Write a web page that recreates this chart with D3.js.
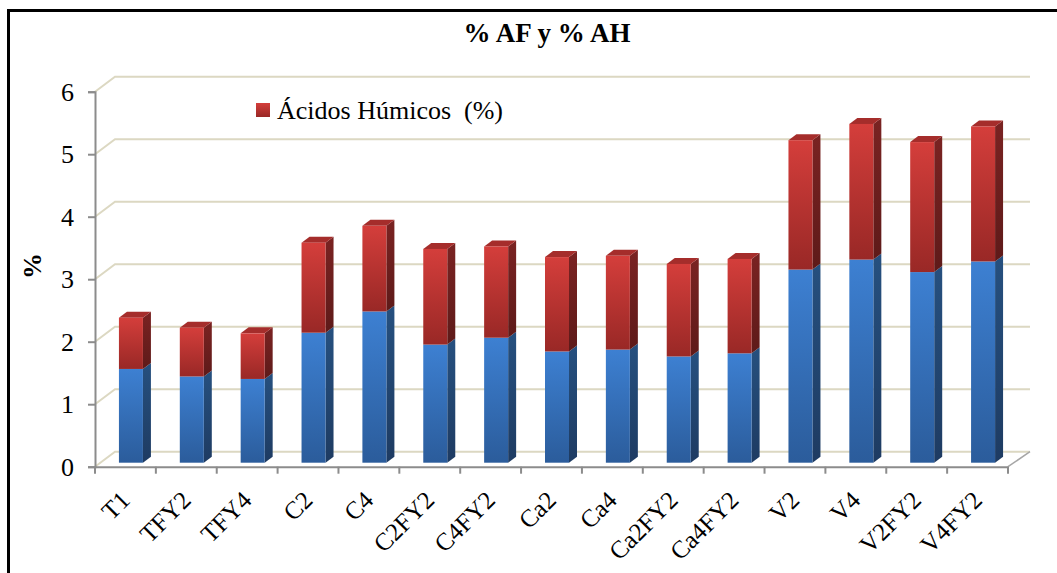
<!DOCTYPE html>
<html>
<head>
<meta charset="utf-8">
<script src="https://cdn.jsdelivr.net/npm/d3@7"></script>
<style>
body { margin: 0; background: #fff; }
text { font-family: "Liberation Serif", "Times New Roman", "DejaVu Serif", serif; fill: #000; }
</style>
</head>
<body>
<script>
const categories = ["T1", "TFY2", "TFY4", "C2", "C4", "C2FY2", "C4FY2", "Ca2", "Ca4",
    "Ca2FY2", "Ca4FY2", "V2", "V4", "V2FY2", "V4FY2"];
const fulvicos = [1.50, 1.38, 1.34, 2.08, 2.42, 1.89, 2.00, 1.78, 1.81, 1.70, 1.75, 3.09, 3.25, 3.05, 3.22];
const humicos = [0.82, 0.78, 0.73, 1.44, 1.37, 1.53, 1.46, 1.51, 1.50, 1.48, 1.51, 2.07, 2.17, 2.08, 2.16];
const yTicks = [0, 1, 2, 3, 4, 5, 6];

const W = 1057, H = 573;
const serif = '"Liberation Serif", "Times New Roman", serif';
const depth = {dx: 20, dy: -15};
const barDepth = {dx: 8, dy: -6};

const svg = d3.select('body').append('svg')
    .attr('width', W)
    .attr('height', H);

const defs = svg.append('defs');
function grad(id, c1, c2) {
    const g = defs.append('linearGradient').attr('id', id)
        .attr('x1', 0).attr('y1', 0).attr('x2', 0).attr('y2', 1);
    g.append('stop').attr('offset', '0%').attr('stop-color', c1);
    g.append('stop').attr('offset', '100%').attr('stop-color', c2);
}
grad('blueFront', '#3d80d2', '#2b5c9b');
grad('blueSide', '#26507f', '#1e3b62');
grad('redFront', '#d43e3b', '#992826');
grad('redSide', '#7a2322', '#5e1a19');

// outer frame
svg.append('rect')
    .attr('x', 8.5).attr('y', 10.5)
    .attr('width', 1100).attr('height', 700)
    .attr('fill', 'none').attr('stroke', '#000').attr('stroke-width', 3);

const x = d3.scaleBand()
    .domain(categories)
    .range([95, 1008]);

const y = d3.scaleLinear()
    .domain([0, 6])
    .range([466.7, 91.7]);

const x0 = 95, x1 = 1008;

// back wall + side wall gridlines
const grid = svg.append('g');
yTicks.forEach(t => {
    grid.append('polyline')
        .attr('points', `${x0},${y(t)} ${x0 + depth.dx},${y(t) + depth.dy} ${x1 + depth.dx + 2},${y(t) + depth.dy}`)
        .attr('fill', 'none')
        .attr('stroke', '#dcd8c2')
        .attr('stroke-width', 2);
});

// floor edge
svg.append('line')
    .attr('x1', x1).attr('y1', y(0))
    .attr('x2', x1 + depth.dx + 2).attr('y2', y(0) + depth.dy)
    .attr('stroke', '#a6a6a6').attr('stroke-width', 1.5);

// y axis
const yAxis = d3.axisLeft(y).tickValues(yTicks).tickFormat(d3.format('d')).tickSize(7).tickPadding(14);
const yAxisGroup = svg.append('g')
    .attr('transform', `translate(${x0}, 0)`)
    .call(yAxis);
yAxisGroup.select('.domain').attr('stroke', '#8c8c8c').attr('stroke-width', 2);
yAxisGroup.selectAll('.tick line').attr('stroke', '#8c8c8c').attr('stroke-width', 2);
yAxisGroup.selectAll('.tick text')
    .style('font-size', '26px')
    .style('font-family', serif)
    .attr('fill', '#000');

// x axis
const xAxis = d3.axisBottom(x).tickSize(0).tickPadding(0);
const xAxisGroup = svg.append('g')
    .attr('transform', `translate(0, ${y(0)})`)
    .call(xAxis);
xAxisGroup.select('.domain').attr('stroke', '#8c8c8c').attr('stroke-width', 2);
xAxisGroup.selectAll('.tick text')
    .style('font-size', '25px')
    .style('font-family', serif)
    .attr('fill', '#000')
    .attr('text-anchor', 'end')
    .attr('dy', 0)
    .attr('y', 0)
    .attr('transform', 'translate(6, 35) rotate(-45)');
const bounds = categories.map(c => x(c)).concat([x1]);
xAxisGroup.selectAll('.bound')
    .data(bounds)
    .enter()
    .append('line')
    .attr('class', 'bound')
    .attr('x1', d => d).attr('x2', d => d)
    .attr('y1', 0).attr('y2', 7)
    .attr('stroke', '#8c8c8c').attr('stroke-width', 2);

// bars
const stack = categories.map((c, i) => ({cat: c, f: fulvicos[i], h: humicos[i]}));
const bw = 24, shiftX = 5.5, shiftY = -4;
const bars = svg.append('g');
stack.forEach(d => {
    const bx = x(d.cat) + x.bandwidth() / 2 + shiftX - bw / 2;
    const segs = [
        {v0: 0, v1: d.f, front: 'url(#blueFront)', side: 'url(#blueSide)', top: '#4a86cf'},
        {v0: d.f, v1: d.f + d.h, front: 'url(#redFront)', side: 'url(#redSide)', top: '#a52d2b'}
    ];
    segs.forEach((s, k) => {
        const yb = y(s.v0) + shiftY, yt = y(s.v1) + shiftY;
        const g = bars.append('g');
        g.append('polygon')
            .attr('points', `${bx + bw},${yb} ${bx + bw + barDepth.dx},${yb + barDepth.dy} ${bx + bw + barDepth.dx},${yt + barDepth.dy} ${bx + bw},${yt}`)
            .attr('fill', s.side);
        if (k === 1) {
            g.append('polygon')
                .attr('points', `${bx},${yt} ${bx + barDepth.dx},${yt + barDepth.dy} ${bx + bw + barDepth.dx},${yt + barDepth.dy} ${bx + bw},${yt}`)
                .attr('fill', s.top);
        }
        g.append('rect')
            .attr('x', bx).attr('y', yt)
            .attr('width', bw).attr('height', yb - yt)
            .attr('fill', s.front);
    });
});

// title
svg.append('text')
    .attr('x', 547).attr('y', 42)
    .attr('text-anchor', 'middle')
    .style('font-family', serif)
    .style('font-size', '27px')
    .style('font-weight', 'bold')
    .text('% AF y % AH');

// y title
svg.append('text')
    .attr('transform', 'translate(41, 266) rotate(-90)')
    .attr('text-anchor', 'middle')
    .style('font-family', serif)
    .style('font-size', '26px')
    .style('font-weight', 'bold')
    .text('%');

// legend
const legend = svg.append('g').attr('transform', 'translate(256, 103)');
legend.append('rect')
    .attr('width', 14).attr('height', 14)
    .attr('fill', 'url(#redFront)');
legend.append('text')
    .attr('x', 21).attr('y', 16)
    .attr('xml:space', 'preserve')
    .style('font-family', serif)
    .style('font-size', '26px')
    .text('Ácidos Húmicos  (%)');
</script>
</body>
</html>
